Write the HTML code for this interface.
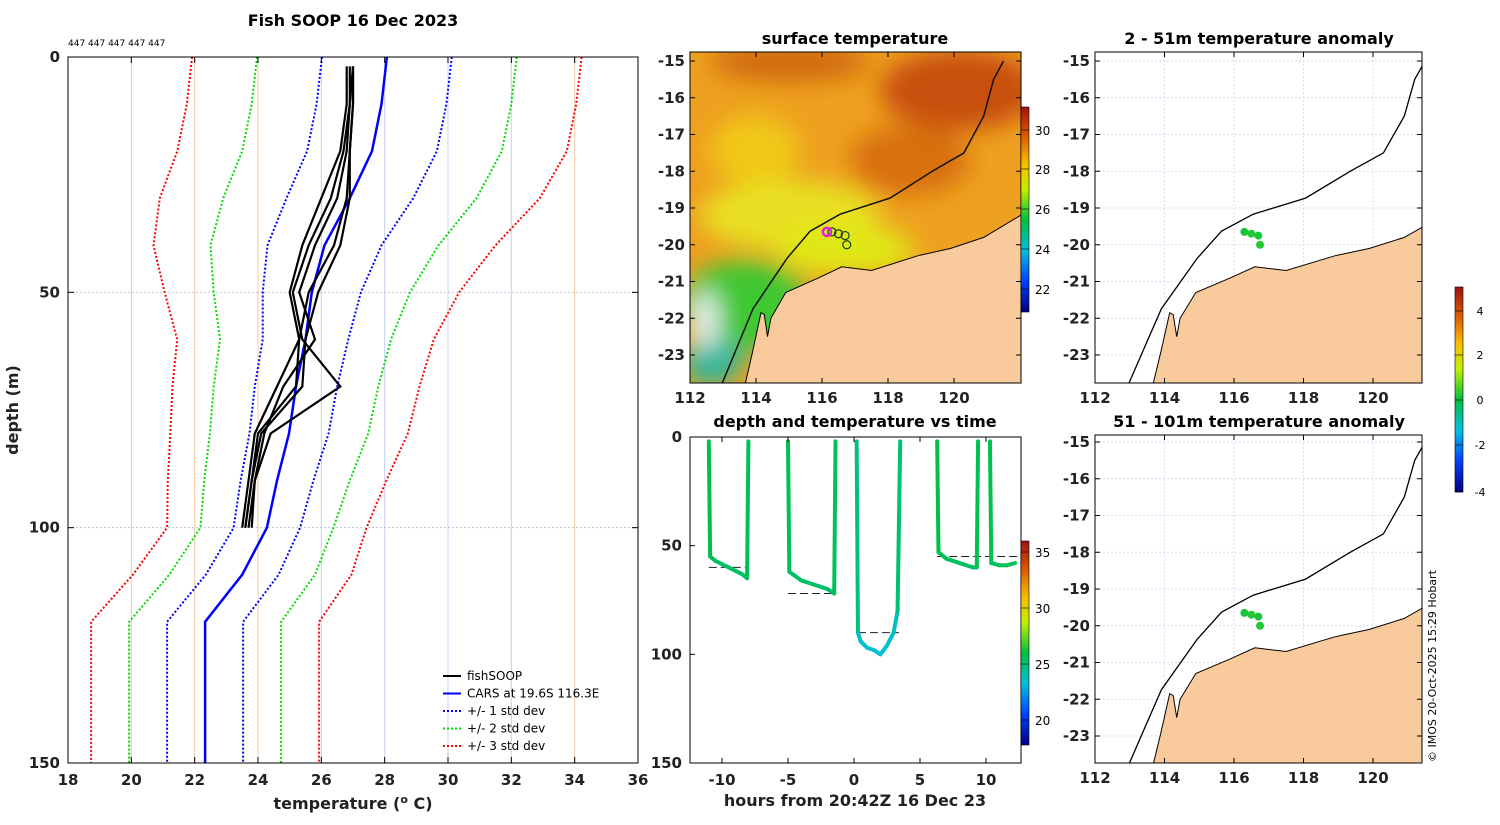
<!DOCTYPE html>
<html><head><meta charset="utf-8"><style>
body{margin:0;background:#fff;}
svg text{font-family:"DejaVu Sans","Liberation Sans",sans-serif;}
</style></head><body>
<svg id="fig" width="1500" height="820" xmlns="http://www.w3.org/2000/svg">
<defs>
<filter id="blur" x="-20%" y="-20%" width="140%" height="140%"><feGaussianBlur stdDeviation="12"/></filter>
<clipPath id="cMap"><rect x="690" y="52" width="331" height="331"/></clipPath>
<clipPath id="cR1"><rect x="1095" y="52" width="327" height="331"/></clipPath>
<clipPath id="cR2"><rect x="1095" y="435" width="327" height="328"/></clipPath>
<linearGradient id="cb1" x1="0" y1="1" x2="0" y2="0">
<stop offset="0" stop-color="#000080"/><stop offset="0.15" stop-color="#0040ff"/><stop offset="0.3" stop-color="#00c0e0"/><stop offset="0.45" stop-color="#00c040"/><stop offset="0.6" stop-color="#c0f000"/><stop offset="0.72" stop-color="#f8c000"/><stop offset="0.85" stop-color="#e06000"/><stop offset="1" stop-color="#a01010"/></linearGradient>
</defs>
<g id="root"></g>
</svg>
<script>
// ---------- data: left profile panel ----------
const depthLevels=[0,10,20,30,40,50,60,70,80,90,100,110,120,150];
const carsMean=[28.07,27.9,27.6,26.9,26.1,25.7,25.5,25.2,24.98,24.6,24.28,23.5,22.33,22.33];
const carsSd=[2.05,2.05,2.05,2.0,1.8,1.55,1.35,1.3,1.25,1.15,1.05,1.15,1.2,1.2];
const soopDepth=[2,10,20,30,40,50,60,70,80,90,100];
const soopA=[27.0,27.0,26.9,26.8,26.4,25.6,25.3,25.2,24.0,23.8,23.6];
const soopB=[26.9,26.9,26.8,26.5,25.8,25.3,25.8,24.8,24.2,23.9,23.7];
const soopC=[27.0,26.9,26.7,26.3,25.6,25.1,25.4,26.6,24.4,23.9,23.8];
const soopD=[26.8,26.8,26.6,26.0,25.4,25.0,25.3,24.6,23.9,23.7,23.5];
const soopE=[27.0,27.0,26.9,26.9,26.6,25.9,25.5,25.4,24.1,23.8,23.6];
const xTicks=[18,20,22,24,26,28,30,32,34,36];
const yTicks=[0,50,100,150];
// ---------- data: time series ----------
const diveTime=[[-11,-10.9,-10.5,-9.5,-8.5,-8.1,-8.0],[-5,-4.9,-4,-3,-2,-1.5,-1.4],[0.2,0.3,0.5,1.0,1.5,2.0,2.5,3.0,3.3,3.5],[6.3,6.4,7,8,9,9.3,9.4],[10.3,10.4,11,11.6,12.2]];
const diveDepth=[[2,55,57,60,63,65,2],[2,62,66,68,70,72,2],[2,90,94,97,98,100,96,90,80,2],[2,53,56,58,60,60,2],[2,58,59,59,58]];
const diveTemp=[[26,25.6,25.5,25.5,25.4,25.3,26],[26,25.4,25.4,25.3,25.3,25.2,26],[26,23.8,23.6,23.5,23.5,23.4,23.5,23.7,24.2,26],[26,25.6,25.5,25.5,25.4,25.4,26],[26,25.5,25.5,25.5,25.5]];
const refDepth=[60,72,90,55];
const refStart=[-11,-5,0.3,6.3];
const refEnd=[-8,-1.5,3.4,12.5];
// ---------- data: maps ----------
const coastLon=[113.67,113.9,114.15,114.25,114.35,114.45,114.9,115.9,116.6,117.5,118.9,119.9,120.9,122.2];
const coastLat=[-23.8,-22.9,-21.85,-21.9,-22.5,-22.0,-21.3,-20.9,-20.6,-20.7,-20.3,-20.1,-19.8,-19.1];
const shelfLon=[112.97,113.91,114.94,115.64,116.55,118.06,119.36,120.3,120.9,121.2,121.5];
const shelfLat=[-23.78,-21.74,-20.37,-19.63,-19.17,-18.73,-17.99,-17.5,-16.5,-15.5,-15.0];
const stnLon=[116.3,116.5,116.7,116.75];
const stnLat=[-19.65,-19.7,-19.75,-20.0];
const stnAnom=[0.2,0.3,0.2,0.3];
const lonTicks=[112,114,116,118,120];
const latTicks=[-15,-16,-17,-18,-19,-20,-21,-22,-23];

const NS='http://www.w3.org/2000/svg';
const root=document.getElementById('root');
function el(tag,attrs,parent,txt){const e=document.createElementNS(NS,tag);for(const k in attrs)e.setAttribute(k,attrs[k]);if(txt!==undefined)e.textContent=txt;(parent||root).appendChild(e);return e;}
function grp(name,parent){const g=el('g',{},parent);return g;}

// ===== Left panel =====
const L={x0:68,x1:638,y0:57,y1:763};
const lx=t=>L.x0+(t-18)/18*(L.x1-L.x0);
const ly=d=>L.y0+d/150*(L.y1-L.y0);
const gL=grp('profile-panel');
const gridCols={20:'#f0c8a0',22:'#f0c8a0',24:'#f0c8a0',26:'#c8d0f0',28:'#c8d0f0',30:'#c8d0f0',32:'#c8d0f0',34:'#f0c8a0'};
xTicks.slice(1,-1).forEach(t=>{const l=el('line',{x1:lx(t),x2:lx(t),y1:L.y0,y2:L.y1,stroke:gridCols[t]||'#ddd','stroke-width':1},gL);});
[50,100].forEach(d=>{const l=el('line',{x1:L.x0,x2:L.x1,y1:ly(d),y2:ly(d),stroke:'#b0b8d8','stroke-width':0.8,'stroke-dasharray':'2,2'},gL);});
function profPath(temps,depths,k){return temps.map((t,i)=>(i?'L':'M')+lx(t+(k||0)*(carsSd[i]||0)).toFixed(1)+','+ly(depths[i]).toFixed(1)).join('');}
[[3,'#ff0000'],[2,'#00dd00'],[1,'#0000ff']].forEach(([k,c])=>{[-1,1].forEach(s=>{const p=el('path',{d:profPath(carsMean,depthLevels,s*k),fill:'none',stroke:c,'stroke-width':2,'stroke-dasharray':'2,2'},gL);});});
const pc=el('path',{d:profPath(carsMean,depthLevels,0),fill:'none',stroke:'#0000ff','stroke-width':2.5},gL);

[soopA,soopB,soopC,soopD,soopE].forEach(s=>{const p=el('path',{d:s.map((t,i)=>(i?'L':'M')+lx(t).toFixed(1)+','+ly(soopDepth[i]).toFixed(1)).join(''),fill:'none',stroke:'#000','stroke-width':2.2},gL);});
el('rect',{x:L.x0,y:L.y0,width:L.x1-L.x0,height:L.y1-L.y0,fill:'none',stroke:'#000','stroke-width':1},gL);
xTicks.forEach(t=>{el('line',{x1:lx(t),x2:lx(t),y1:L.y1,y2:L.y1-6,stroke:'#000'},gL);el('line',{x1:lx(t),x2:lx(t),y1:L.y0,y2:L.y0+6,stroke:'#000'},gL);const tx=el('text',{x:lx(t),y:L.y1+22,'text-anchor':'middle','font-size':15,'font-weight':'bold',fill:'#222'},gL,t);});
yTicks.forEach(d=>{el('line',{x1:L.x0,x2:L.x0+6,y1:ly(d),y2:ly(d),stroke:'#000'},gL);el('line',{x1:L.x1,x2:L.x1-6,y1:ly(d),y2:ly(d),stroke:'#000'},gL);const tx=el('text',{x:L.x0-8,y:ly(d)+5,'text-anchor':'end','font-size':15,'font-weight':'bold',fill:'#222'},gL,d);});
let t1=el('text',{x:353,y:26,'text-anchor':'middle','font-size':16,'font-weight':'bold'},gL,'Fish SOOP 16 Dec 2023');
let t2=el('text',{x:68,y:46,'font-size':9},gL,'447 447 447 447 447');
let t3=el('text',{x:353,y:809,'text-anchor':'middle','font-size':16,'font-weight':'bold',fill:'#222'},gL);t3.innerHTML='temperature (<tspan dy="-6" font-size="11">o</tspan><tspan dy="6"> C)</tspan>';
let t4=el('text',{x:18,y:410,'text-anchor':'middle','font-size':16,'font-weight':'bold',fill:'#222',transform:'rotate(-90 18 410)'},gL,'depth (m)');
const legItems=[['fishSOOP','#000',''],['CARS at 19.6S 116.3E','#0000ff',''],['+/- 1 std dev','#0000ff','2,2'],['+/- 2 std dev','#00dd00','2,2'],['+/- 3 std dev','#ff0000','2,2']];
const gLeg=grp('legend',gL);
legItems.forEach((it,i)=>{const y=676+i*17.5;const g=grp('legend-entry',gLeg);el('line',{x1:443,x2:461,y1:y,y2:y,stroke:it[1],'stroke-width':2,'stroke-dasharray':it[2]||'none'},g);el('text',{x:467,y:y+4,'font-size':12},g,it[0]);});

// ===== Colormap =====
const cmStops=[[0,[0,0,128]],[0.15,[0,64,255]],[0.3,[0,192,224]],[0.45,[0,192,64]],[0.6,[192,240,0]],[0.72,[248,192,0]],[0.85,[224,96,0]],[1,[160,16,16]]];
function cmap(f){f=Math.max(0,Math.min(1,f));for(let i=1;i<cmStops.length;i++){if(f<=cmStops[i][0]){const a=cmStops[i-1],b=cmStops[i];const u=(f-a[0])/(b[0]-a[0]);return 'rgb('+a[1].map((v,j)=>Math.round(v+u*(b[1][j]-v))).join(',')+')';}}return 'rgb(160,16,16)';}

// ===== Map helpers =====
function axesLabels(g,px,py,x0,x1,y0,y1){
 lonTicks.forEach(t=>{const x=px(t);el('line',{x1:x,x2:x,y1:y0,y2:y1,stroke:'#c8d0f0','stroke-width':0.7,'stroke-dasharray':'2,2'},g);});
 latTicks.forEach(t=>{const y=py(t);if(y<y0||y>y1)return;el('line',{x1:x0,x2:x1,y1:y,y2:y,stroke:'#c8d0f0','stroke-width':0.7,'stroke-dasharray':'2,2'},g);});
}
function axesFrame(g,px,py,x0,x1,y0,y1){
 el('rect',{x:x0,y:y0,width:x1-x0,height:y1-y0,fill:'none',stroke:'#000','stroke-width':1},g);
 lonTicks.forEach(t=>{const x=px(t);el('line',{x1:x,x2:x,y1:y1,y2:y1-5,stroke:'#000'},g);el('line',{x1:x,x2:x,y1:y0,y2:y0+5,stroke:'#000'},g);const tx=el('text',{x:x,y:y1+20,'text-anchor':'middle','font-size':15,'font-weight':'bold',fill:'#222'},g,t);});
 latTicks.forEach(t=>{const y=py(t);if(y<y0||y>y1)return;el('line',{x1:x0,x2:x0+5,y1:y,y2:y,stroke:'#000'},g);el('line',{x1:x1,x2:x1-5,y1:y,y2:y,stroke:'#000'},g);const tx=el('text',{x:x0-5,y:y+5,'text-anchor':'end','font-size':15,'font-weight':'bold',fill:'#222'},g,t);});
}
function landPath(px,py,x1,y1){return coastLon.map((l,i)=>(i?'L':'M')+px(l).toFixed(1)+','+py(coastLat[i]).toFixed(1)).join('')+'L'+(x1+40)+','+py(-19.1)+'L'+(x1+40)+','+(y1+5)+'L'+px(113.5)+','+(y1+5)+'Z';}
function linePath(lons,lats,px,py){return lons.map((l,i)=>(i?'L':'M')+px(l).toFixed(1)+','+py(lats[i]).toFixed(1)).join('');}

// ===== Surface temp map =====
const M={x0:690,x1:1021,y0:52,y1:383};
const mx=l=>690+(l-112)*33, my=la=>61+(-15-la)*36.75;
const gM=grp('sst-map-panel');
const gMI=el('g',{'clip-path':'url(#cMap)'},gM);
el('rect',{x:690,y:52,width:331,height:331,fill:'#eea020'},gMI);
const gBl=el('g',{filter:'url(#blur)'},gMI);
el('ellipse',{cx:960,cy:90,rx:80,ry:40,fill:'#c85010'},gBl);
el('ellipse',{cx:790,cy:62,rx:80,ry:20,fill:'#d06a10'},gBl);
el('ellipse',{cx:910,cy:160,rx:60,ry:35,fill:'#d87010'},gBl);
el('ellipse',{cx:755,cy:150,rx:45,ry:35,fill:'#f0c818'},gBl);
el('ellipse',{cx:790,cy:215,rx:90,ry:35,fill:'#e8e020'},gBl);
el('ellipse',{cx:845,cy:250,rx:70,ry:25,fill:'#e0e818'},gBl);
el('ellipse',{cx:745,cy:305,rx:65,ry:45,fill:'#40c830'},gBl);
el('ellipse',{cx:712,cy:360,rx:30,ry:25,fill:'#20b8a0'},gBl);
el('ellipse',{cx:705,cy:320,rx:14,ry:30,fill:'#e8f0f0'},gBl);
el('path',{d:landPath(mx,my,M.x1,M.y1),fill:'#f9cb9c',stroke:'#000','stroke-width':1},gMI);
el('path',{d:linePath(shelfLon,shelfLat,mx,my),fill:'none',stroke:'#111','stroke-width':1.5},gMI);
stnLon.forEach((l,i)=>{const c=el('circle',{cx:mx(l),cy:my(stnLat[i]),r:4,fill:'none',stroke:'#114411','stroke-width':1.2},gMI);});
el('circle',{cx:mx(stnLon[0])-5,cy:my(stnLat[0]),r:4,fill:'none',stroke:'#e020e0','stroke-width':2.5},gMI);
axesFrame(gM,mx,my,M.x0,M.x1,M.y0,M.y1);
let tm=el('text',{x:855,y:44,'text-anchor':'middle','font-size':16,'font-weight':'bold'},gM,'surface temperature');
const gC1=grp('sst-colorbar');
el('rect',{x:1021,y:107,width:8,height:205,fill:'url(#cb1)',stroke:'#000','stroke-width':0.6},gC1);
[[30,130],[28,169],[26,209],[24,249],[22,289]].forEach(([v,y])=>{el('line',{x1:1021,x2:1029,y1:y,y2:y,stroke:'#000','stroke-width':0.6},gC1);el('text',{x:1035,y:y+5,'font-size':12},gC1,v);});

// ===== Time series panel =====
const T={x0:690,x1:1021,y0:437,y1:763};
const tx=h=>854+h*13.2, ty=d=>437+d/150*326;
const tc=v=>cmap((v-17.8)/(36-17.8));
const gT=grp('depth-time-panel');
refDepth.forEach((d,i)=>{const l=el('line',{x1:tx(refStart[i]),x2:tx(refEnd[i]),y1:ty(d),y2:ty(d),stroke:'#222','stroke-width':1,'stroke-dasharray':'8,4'},gT);});
diveTime.forEach((ts,k)=>{const g=grp('dive-track',gT);for(let i=1;i<ts.length;i++){el('line',{x1:tx(ts[i-1]),y1:ty(diveDepth[k][i-1]),x2:tx(ts[i]),y2:ty(diveDepth[k][i]),stroke:tc((diveTemp[k][i-1]+diveTemp[k][i])/2),'stroke-width':4,'stroke-linecap':'round'},g);}});
const htk=[-10,-5,0,5,10];
el('rect',{x:T.x0,y:T.y0,width:T.x1-T.x0,height:T.y1-T.y0,fill:'none',stroke:'#000'},gT);
htk.forEach(h=>{el('line',{x1:tx(h),x2:tx(h),y1:T.y1,y2:T.y1-5,stroke:'#000'},gT);el('line',{x1:tx(h),x2:tx(h),y1:T.y0,y2:T.y0+5,stroke:'#000'},gT);const t=el('text',{x:tx(h),y:T.y1+22,'text-anchor':'middle','font-size':15,'font-weight':'bold',fill:'#222'},gT,h);});
yTicks.forEach(d=>{el('line',{x1:T.x0,x2:T.x0+5,y1:ty(d),y2:ty(d),stroke:'#000'},gT);const t=el('text',{x:T.x0-8,y:ty(d)+5,'text-anchor':'end','font-size':15,'font-weight':'bold',fill:'#222'},gT,d);});
let tt=el('text',{x:855,y:427,'text-anchor':'middle','font-size':16,'font-weight':'bold'},gT,'depth and temperature vs time');
let tx2=el('text',{x:855,y:806,'text-anchor':'middle','font-size':16,'font-weight':'bold',fill:'#222'},gT,'hours from 20:42Z 16 Dec 23');
const gC2=grp('time-colorbar');
el('rect',{x:1021,y:541,width:8,height:204,fill:'url(#cb1)',stroke:'#000','stroke-width':0.6},gC2);
[[35,552],[30,608],[25,664],[20,720]].forEach(([v,y])=>{el('line',{x1:1021,x2:1029,y1:y,y2:y,stroke:'#000','stroke-width':0.6},gC2);el('text',{x:1035,y:y+5,'font-size':12},gC2,v);});

// ===== Anomaly maps =====
const ac=v=>cmap((v+4.2)/9.4);
function anomMap(name,title,y0,y1,latTop,clip){
 const g=grp(name);
 const px=l=>1095+(l-112)*34.75, py=la=>latTop+(-15-la)*36.75;
 axesLabels(g,px,py,1095,1422,y0,y1);
 const gi=el('g',{'clip-path':'url(#'+clip+')'},g);
 el('path',{d:landPath(px,py,1422,y1),fill:'#f9cb9c',stroke:'#000','stroke-width':1},gi);
 el('path',{d:linePath(shelfLon,shelfLat,px,py),fill:'none',stroke:'#000','stroke-width':1.3},gi);
 stnLon.forEach((l,i)=>{const c=el('circle',{cx:px(l),cy:py(stnLat[i]),r:4,fill:ac(stnAnom[i])},gi);});
 axesFrame(g,px,py,1095,1422,y0,y1);
 const t=el('text',{x:1259,y:y0-8,'text-anchor':'middle','font-size':16,'font-weight':'bold'},g,title);
}
anomMap('anomaly-map-2-51m','2 - 51m temperature anomaly',52,383,61,'cR1');
anomMap('anomaly-map-51-101m','51 - 101m temperature anomaly',435,763,442,'cR2');
const gC3=grp('anomaly-colorbar');
el('rect',{x:1455,y:287,width:8,height:205,fill:'url(#cb1)',stroke:'#000','stroke-width':0.6},gC3);
[[4,311],[2,355],[0,400],[-2,445],[-4,492]].forEach(([v,y])=>{el('line',{x1:1455,x2:1463,y1:y,y2:y,stroke:'#000','stroke-width':0.6},gC3);el('text',{x:1480,y:y+4,'font-size':11,'text-anchor':'middle'},gC3,v);});
let cp=el('text',{x:1436,y:762,'font-size':11,transform:'rotate(-90 1436 762)'},root,'© IMOS 20-Oct-2025 15:29 Hobart');


</script>
</body></html>
